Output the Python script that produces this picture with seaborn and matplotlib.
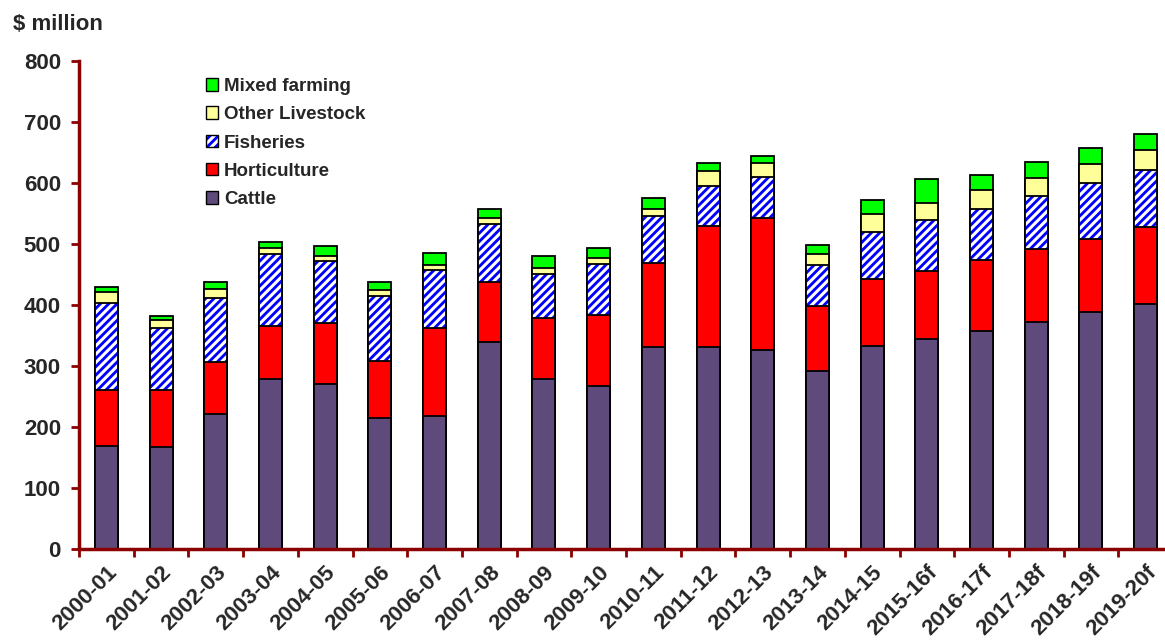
import numpy as np
import pandas as pd
import matplotlib
matplotlib.use("Agg")
import matplotlib.pyplot as plt
import seaborn as sns
from matplotlib.patches import Patch

years = ["2000-01", "2001-02", "2002-03", "2003-04", "2004-05", "2005-06", "2006-07",
         "2007-08", "2008-09", "2009-10", "2010-11", "2011-12", "2012-13", "2013-14",
         "2014-15", "2015-16f", "2016-17f", "2017-18f", "2018-19f", "2019-20f"]
cattle = [169, 168, 221, 279, 271, 214, 218, 339, 279, 267,
          331, 331, 326, 291, 333, 345, 358, 372, 388, 402]
horticulture = [92, 92, 85, 87, 99, 95, 144, 98, 99, 117,
                138, 198, 216, 107, 109, 111, 115, 120, 121, 126]
fisheries = [142, 102, 105, 117, 102, 106, 95, 96, 73, 83,
             77, 66, 68, 68, 78, 83, 85, 86, 91, 93]
other_livestock = [18, 13, 15, 10, 9, 9, 9, 9, 10, 10,
                   11, 24, 22, 17, 29, 29, 30, 31, 31, 33]
mixed_farming = [8, 7, 12, 10, 15, 13, 20, 15, 19, 16,
                 19, 14, 13, 15, 23, 38, 25, 25, 27, 27]

df = pd.DataFrame({"year": years, "Cattle": cattle, "Horticulture": horticulture,
                   "Fisheries": fisheries, "Other Livestock": other_livestock,
                   "Mixed farming": mixed_farming})
cum = df[["Cattle", "Horticulture", "Fisheries", "Other Livestock", "Mixed farming"]].cumsum(axis=1)
cum["year"] = df["year"]

sns.set_style("white")
plt.rcParams["font.family"] = ["Liberation Sans", "DejaVu Sans"]
plt.rcParams["font.weight"] = "bold"
plt.rcParams["hatch.linewidth"] = 2.2

spine_col = "#8B0000"
purple = "#5F4B7B"
bar_w = 0.42
edge_kw = dict(edgecolor="black", linewidth=1.3, saturation=1, width=bar_w)

fig = plt.figure(figsize=(11.65, 6.41), dpi=100)
ax = fig.add_axes([79 / 1165, 92 / 641, 1094 / 1165, 488 / 641])

# stacked bars drawn as cumulative totals, top layer first
sns.barplot(data=cum, x="year", y="Mixed farming", color="#00FF00", ax=ax, **edge_kw)
sns.barplot(data=cum, x="year", y="Other Livestock", color="#FFFF99", ax=ax, **edge_kw)
sns.barplot(data=cum, x="year", y="Fisheries", color="#0000FF", ax=ax, saturation=1,
            width=bar_w, hatch="////", edgecolor="white", linewidth=0)
sns.barplot(data=cum, x="year", y="Fisheries", fill=False, ax=ax, **edge_kw)
sns.barplot(data=cum, x="year", y="Horticulture", color="#FF0000", ax=ax, **edge_kw)
sns.barplot(data=cum, x="year", y="Cattle", color=purple, ax=ax, **edge_kw)

ax.set_xlim(-0.5, len(years) - 0.5)
ax.set_ylim(0, 800)
ax.set_yticks(np.arange(0, 801, 100))
ax.set_xlabel("")
ax.set_ylabel("")

for s in ["top", "right"]:
    ax.spines[s].set_visible(False)
for s in ["left", "bottom"]:
    ax.spines[s].set_color(spine_col)
    ax.spines[s].set_linewidth(2.5)

ax.tick_params(axis="y", direction="out", length=6, width=2, color=spine_col,
               labelsize=16, pad=7, left=True)
ax.set_xticks(np.arange(len(years)))
ax.set_xticklabels(years, rotation=45, ha="right", rotation_mode="anchor",
                   fontsize=16, fontweight="bold")
ax.tick_params(axis="x", which="major", length=0, pad=9)
ax.set_xticks(np.arange(-0.5, len(years), 1), minor=True)
ax.tick_params(axis="x", which="minor", direction="out", length=6, width=2,
               color=spine_col, bottom=True)
for lab in ax.get_yticklabels():
    lab.set_fontweight("bold")

fish_fill = Patch(facecolor="#0000FF", edgecolor="white", hatch="////", linewidth=0)
fish_edge = Patch(facecolor="none", edgecolor="black")
handles = [
    Patch(facecolor="#00FF00", edgecolor="black"),
    Patch(facecolor="#FFFF99", edgecolor="black"),
    (fish_fill, fish_edge),
    Patch(facecolor="#FF0000", edgecolor="black"),
    Patch(facecolor=purple, edgecolor="black"),
]
labels = ["Mixed farming", "Other Livestock", "Fisheries", "Horticulture", "Cattle"]
leg = fig.legend(handles=handles, labels=labels, loc="upper left",
                 bbox_to_anchor=(206 / 1165, 1 - 78 / 641), frameon=False,
                 prop={"size": 13.5, "weight": "bold"}, handlelength=0.65,
                 handleheight=0.65, handletextpad=0.3, labelspacing=0.6,
                 borderaxespad=0, borderpad=0)

fig.text(13 / 1165, 1 - 24 / 641, "$ million", fontsize=16, fontweight="bold",
         va="center", ha="left")

fig.savefig("out.png", dpi=100)
